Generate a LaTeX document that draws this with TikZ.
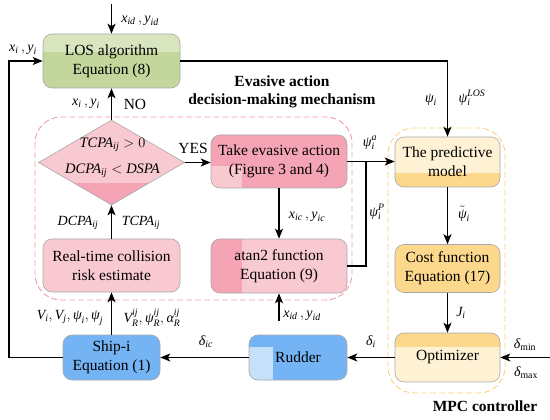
\documentclass[tikz,border=0pt]{standalone}
\usepackage{amsmath}
\usepackage{fontspec}
\setmainfont{Liberation Serif}
\usetikzlibrary{arrows.meta,shapes.geometric}
\newcommand{\itx}[1]{\textit{#1}}
\definecolor{gTop}{HTML}{D8E5BF}
\definecolor{gMain}{HTML}{C3D69B}
\definecolor{pLight}{HTML}{F9C9D1}
\definecolor{pDark}{HTML}{F4A4B4}
\definecolor{yLight}{HTML}{FEF1D4}
\definecolor{yDark}{HTML}{FBD88C}
\definecolor{bMain}{HTML}{74B4F4}
\definecolor{bLight}{HTML}{C7E0FA}
\definecolor{dashP}{HTML}{F29BAA}
\definecolor{dashY}{HTML}{F9D47F}
\definecolor{bordc}{HTML}{A8A8A8}
\begin{document}
\begin{tikzpicture}[x=1pt,y=-1pt,
  font=\fontsize{15.5}{19}\selectfont,
  box/.style={draw=bordc, line width=0.6pt, rounded corners=9pt, inner sep=0pt, align=center},
  patch/.style={sharp corners},
  arr/.style={line width=1.3pt, -{Stealth[length=10pt,width=8pt,inset=2.5pt]}},
  ln/.style={line width=1.3pt},
  lab/.style={font=\fontsize{14}{16}\selectfont, inner sep=0pt},
  region/.style={dashed, dash pattern=on 6pt off 3pt, line width=0.9pt, rounded corners=26pt}
]
\useasboundingbox (0,0) rectangle (550,420);

% dashed regions
\draw[region, draw=dashP] (35,117) rectangle (352,300);
\draw[region, draw=dashY] (388,128) rectangle (505,393);

% boxes
\node[box, fill=gMain, minimum width=137pt, minimum height=54pt,
  path picture={\fill[gTop, patch] (path picture bounding box.north west) rectangle ([yshift=-18pt]path picture bounding box.north east);}]
  (los) at (111.5,61) {LOS algorithm\\Equation (8)};

\node[diamond, draw=bordc, line width=0.6pt, fill=pLight, minimum width=146pt, minimum height=85pt, inner sep=0pt,
  path picture={\fill[pDark, patch] (path picture bounding box.south west) rectangle ([yshift=22pt]path picture bounding box.south east);}]
  (dia) at (111.5,162.5) {};
\node[align=center, font=\fontsize{14.5}{26}\selectfont, inner sep=0pt] (dtxt) at (112.5,158)
  {$\itx{TCPA}_{\itx{ij}}>0$\\$\itx{DCPA}_{\itx{ij}}<\itx{DSPA}$};

\node[box, fill=pDark, minimum width=136pt, minimum height=53pt,
  path picture={\fill[pLight, patch] (path picture bounding box.south west) rectangle ([xshift=31pt,yshift=22pt]path picture bounding box.south west);}]
  (take) at (279,161.5) {Take evasive action\\(Figure 3 and 4)};

\node[box, fill=pLight, minimum width=136pt, minimum height=54pt,
  path picture={\fill[pDark, patch] (path picture bounding box.south west) rectangle ([xshift=31pt]path picture bounding box.north west);}]
  (atan) at (279,266) {atan2 function\\Equation (9)};

\node[box, fill=pLight, minimum width=137pt, minimum height=53pt]
  (real) at (111.5,265.5) {Real-time collision\\risk estimate};

\node[box, fill=bMain, minimum width=97pt, minimum height=45pt]
  (ship) at (111.5,357.5) {Ship-i\\Equation (1)};

\node[box, fill=bMain, minimum width=98pt, minimum height=45pt,
  path picture={\fill[bLight, patch] (path picture bounding box.south west) rectangle ([xshift=24pt,yshift=33pt]path picture bounding box.south west);}]
  (rud) at (298,357.5) {Rudder};

\node[box, fill=yLight, minimum width=105pt, minimum height=50pt,
  path picture={\fill[yDark, patch] (path picture bounding box.south west) rectangle ([yshift=14pt]path picture bounding box.south east);}]
  (pred) at (447.5,162) {The predictive\\model};

\node[box, fill=yDark, minimum width=105pt, minimum height=48pt]
  (cost) at (447.5,268.5) {Cost function\\Equation (17)};

\node[box, fill=yLight, minimum width=105pt, minimum height=49pt,
  path picture={\fill[yDark, patch] (path picture bounding box.north west) rectangle ([yshift=-14pt]path picture bounding box.north east);}]
  (opt) at (447.5,357.5) {Optimizer};

% coordinates
\coordinate (topin) at (111.5,4);
\coordinate (lc) at (9,357.5);
\coordinate (jn) at (366,161.5);
\coordinate (xin) at (279,321);
\coordinate (din) at (550,357.5);

% connectors
\draw[arr] (topin) -- (los.north);
\draw[arr] (ship.west) -- (lc) |- (los.west);
\draw[arr] (los.east) -| (pred.north);
\draw[arr] (dia.north) -- (los.south);
\draw[arr] (dia.east) -- (dia.east -| take.west);
\draw[arr] (take.east) -- (take.east -| pred.west);
\draw[ln] (atan.east) -| (jn);
\draw[arr] (take.south) -- (atan.north);
\draw[arr] (xin) -- (atan.south);
\draw[arr] (real.north) -- (dia.south);
\draw[arr] (ship.north) -- (real.south);
\draw[arr] (pred.south) -- (cost.north);
\draw[arr] (cost.south) -- (opt.north);
\draw[arr] (opt.west) -- (rud.east);
\draw[arr] (rud.west) -- (ship.east);
\draw[arr] (din) -- (opt.east);

% labels
\node[lab] (l1) at (140,21) {$\itx{x}_{\itx{id}}\,,\itx{y}_{\itx{id}}$};
\node[lab] (l2) at (23,50) {$\itx{x}_{\itx{i}}\,,\itx{y}_{\itx{i}}$};
\node[lab] (l3) at (86,104) {$\itx{x}_{\itx{i}}\,,\itx{y}_{\itx{i}}$};
\node[inner sep=0pt] (l4) at (135,104) {NO};
\node[inner sep=0pt] (l5) at (193,148) {YES};
\node[lab] (l6) at (431,100) {$\itx{ψ}_{\itx{i}}$};
\node[lab] (l7) at (472,98) {$\itx{ψ}_{\itx{i}}^{\itx{LOS}}$};
\node[lab] (l8) at (370,143) {$\itx{ψ}_{\itx{i}}^{\itx{a}}$};
\node[lab] (l9) at (377,212) {$\itx{ψ}_{\itx{i}}^{\itx{P}}$};
\node[lab] (l10) at (307,217) {$\itx{x}_{\itx{ic}}\,,\itx{y}_{\itx{ic}}$};
\node[lab] (l11) at (464,214) {$\tilde{\itx{ψ}}_{\itx{i}}$};
\node[lab] (l12) at (461,313) {$\itx{J}_{\itx{i}}$};
\node[lab] (l13) at (525,345) {$\itx{δ}_{\text{min}}$};
\node[lab] (l14) at (526,373) {$\itx{δ}_{\text{max}}$};
\node[lab] (l15) at (371,342) {$\itx{δ}_{\itx{i}}$};
\node[lab] (l16) at (206,342) {$\itx{δ}_{\itx{ic}}$};
\node[lab] (l17) at (78,223) {$\itx{DCPA}_{\itx{ij}}$};
\node[lab] (l18) at (141,223) {$\itx{TCPA}_{\itx{ij}}$};
\node[lab] (l19) at (70,318) {$\itx{V}_{\itx{i}},\itx{V}_{\itx{j}},\itx{ψ}_{\itx{i}},\itx{ψ}_{\itx{j}}$};
\node[lab] (l20) at (152,318) {$\itx{V}_{\itx{R}}^{\itx{ij}},\itx{ψ}_{\itx{R}}^{\itx{ij}},\itx{α}_{\itx{R}}^{\itx{ij}}$};
\node[lab] (l21) at (302,316) {$\itx{x}_{\itx{id}}\,,\itx{y}_{\itx{id}}$};
\node[font=\bfseries\fontsize{15.5}{18}\selectfont, align=center, inner sep=0pt] (evl) at (282,92)
  {Evasive action\\decision-making mechanism};
\node[font=\bfseries\fontsize{15.5}{18}\selectfont, inner sep=0pt] (mpc) at (485,406) {MPC controller};
\end{tikzpicture}
\end{document}
